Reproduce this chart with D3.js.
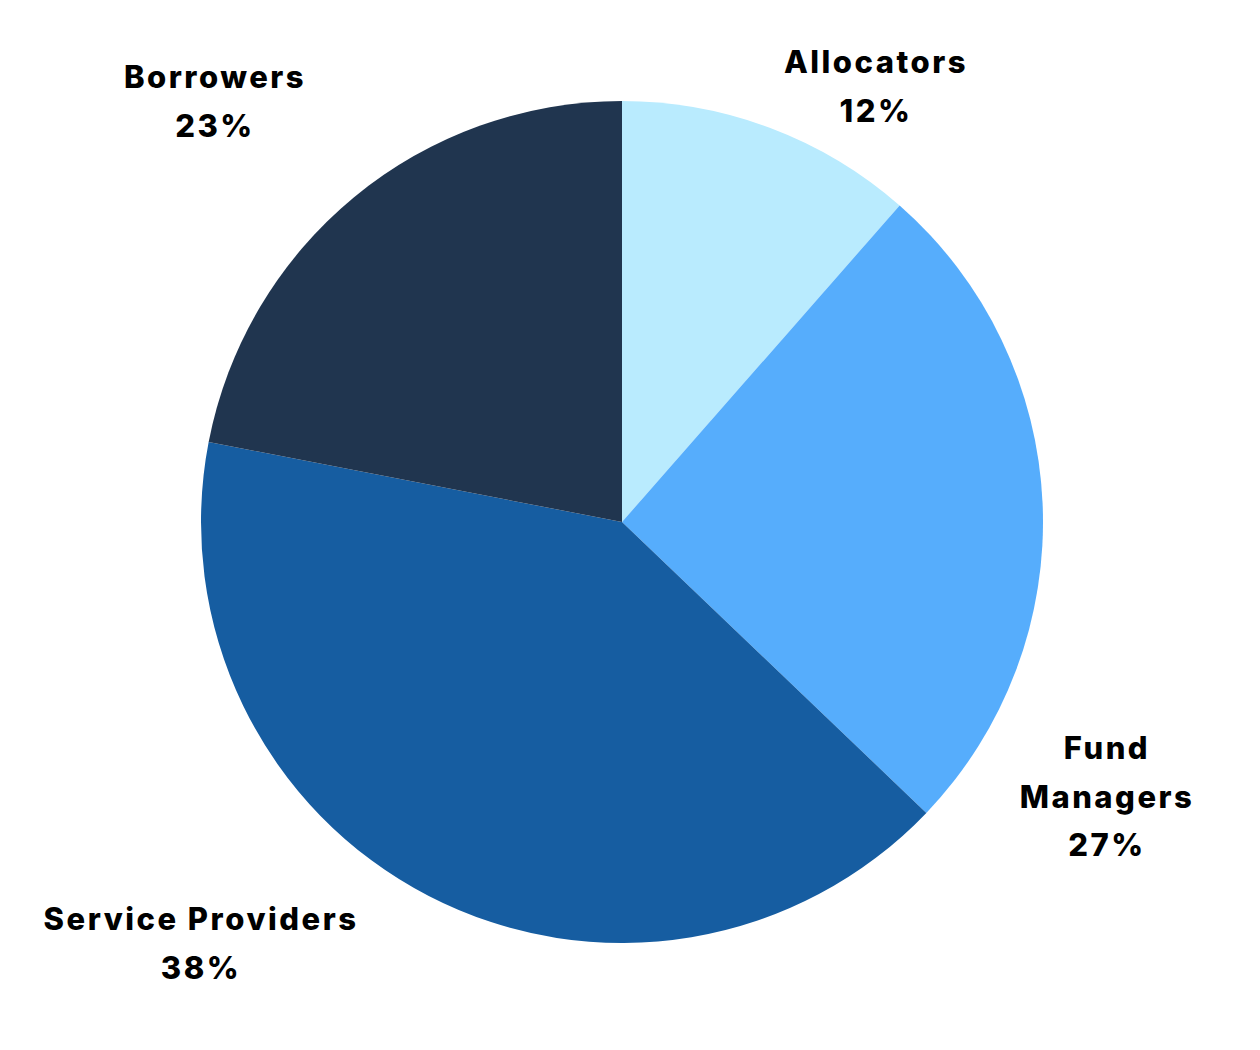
<!DOCTYPE html>
<html>
<head>
<meta charset="utf-8">
<script src="https://cdn.jsdelivr.net/npm/d3@7"></script>
<style>
  body { margin: 0; background: #fff; }
  text { font-family: Inter, "Noto Sans", sans-serif; font-weight: 800; }
</style>
</head>
<body>
<svg id="chart"></svg>
<script>
var screen = {width: 1260, height: 1050};

// slice sizes as drawn, and the printed percentages
var categories = ["Allocators", "Fund Managers", "Service Providers", "Borrowers"];
var sliceValues = [11.46, 25.68, 40.9, 21.96];
var labelPercents = ["12%", "27%", "38%", "23%"];
var colors = ["#b9ebfe", "#56adfc", "#165da1", "#20354f"];

// label lines and where each label block sits
var labelLines = [["Allocators"], ["Fund", "Managers"], ["Service Providers"], ["Borrowers"]];
var labelAnchors = [[876, 73], [1107, 759], [201, 930], [215, 88]];

var cx = 622, cy = 522, radius = 421;

var svg = d3.select("#chart")
    .attr("width", screen.width)
    .attr("height", screen.height)

var data = categories.map(function(c, i) {
    return {name: c, value: sliceValues[i], pct: labelPercents[i], color: colors[i], lines: labelLines[i], anchor: labelAnchors[i]}
})

var pie = d3.pie()
    .value(function(d) { return d.value })
    .sort(null)

var arc = d3.arc()
    .innerRadius(0)
    .outerRadius(radius)

var g = svg.append("g")
    .attr("transform", "translate(" + cx + "," + cy + ")")

g.selectAll("path")
    .data(pie(data))
    .enter()
    .append("path")
    .attr("d", arc)
    .attr("fill", function(d) { return d.data.color })

var labels = svg.selectAll(".label")
    .data(data)
    .enter()
    .append("text")
    .attr("class", "label")
    .attr("text-anchor", "middle")
    .attr("font-size", 31)
    .attr("letter-spacing", 2.5)
    .attr("fill", "#000")

labels.each(function(d) {
    var t = d3.select(this)
    var rows = d.lines.concat([d.pct])
    rows.forEach(function(r, i) {
        t.append("tspan")
            .attr("x", d.anchor[0])
            .attr("y", d.anchor[1] + i * 48.5)
            .text(r)
    })
})
</script>
</body>
</html>
